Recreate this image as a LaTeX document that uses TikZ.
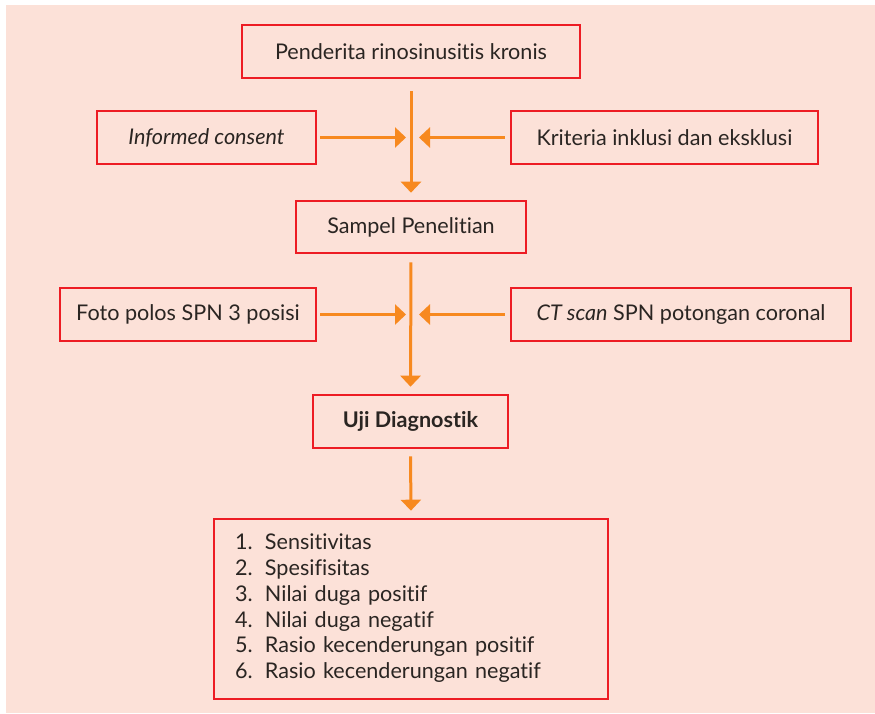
\documentclass[tikz,border=0pt]{standalone}
\usepackage{fontspec}
\setmainfont{Lato}[Ligatures=NoCommon]
\usetikzlibrary{arrows.meta}
\definecolor{peach}{HTML}{FCE1D8}
\definecolor{boxred}{HTML}{ED1C24}
\definecolor{arrorange}{HTML}{F7891F}
\definecolor{ink}{HTML}{2A2522}

\begin{document}
\begin{tikzpicture}[x=1pt, y=-1pt,
  every node/.style={draw=boxred, line width=2.6pt, text=ink, font=\fontsize{21.6}{25}\selectfont, minimum height=53pt, inner sep=0pt},
  arr/.style={draw=arrorange, line width=3pt, -{Triangle[length=11pt,width=20pt]}}]
\useasboundingbox (0,0) rectangle (875,713);
\fill[peach] (6,5) rectangle (875,713);
\node[minimum width=338pt] (pend) at (411,51.5) {Penderita rinosinusitis kronis};
\node[minimum width=219pt] (inf) at (206.5,137.5) {\itshape Informed consent};
\node[minimum width=307pt] (krit) at (664.5,137.5) {Kriteria inklusi dan eksklusi};
\node[minimum width=230pt, minimum height=52pt] (sampel) at (411,227) {Sampel Penelitian};
\node[minimum width=256pt] (foto) at (188,314.5) {Foto polos SPN 3 posisi};
\node[minimum width=340pt] (ct) at (681,314.5) {\textit{CT scan} SPN potongan coronal};
\node[minimum width=195pt] (uji) at (410.5,421.5) {\bfseries Uji Diagnostik};
\node[minimum height=180pt, text width=352pt, inner xsep=21pt, align=left, font=\fontsize{21.6}{25.7}\selectfont] (hasil) at (411,609) {%
\begin{tabular}{@{}p{30pt}@{}l@{}}
1. & Sensitivitas\\
2. & Spesifisitas\\
3. & Nilai duga positif\\
4. & Nilai duga negatif\\
5. & Rasio kecenderungan positif\\
6. & Rasio kecenderungan negatif
\end{tabular}};
\coordinate (m1) at (411,137.5);
\coordinate (m2) at (411,314.5);
\draw[arr, shorten <=12pt, shorten >=7pt] (pend.south) -- (sampel.north);
\draw[arr, shorten <=3pt, shorten >=5pt] (inf.east) -- (m1);
\draw[arr, shorten <=5pt, shorten >=8pt] (krit.west) -- (m1);
\draw[arr, shorten <=8pt, shorten >=7pt] (sampel.south) -- (uji.north);
\draw[arr, shorten <=3pt, shorten >=5pt] (foto.east) -- (m2);
\draw[arr, shorten <=5pt, shorten >=8pt] (ct.west) -- (m2);
\draw[arr, shorten <=7pt, shorten >=7pt] (uji.south) -- (hasil.north);
\end{tikzpicture}
\end{document}
